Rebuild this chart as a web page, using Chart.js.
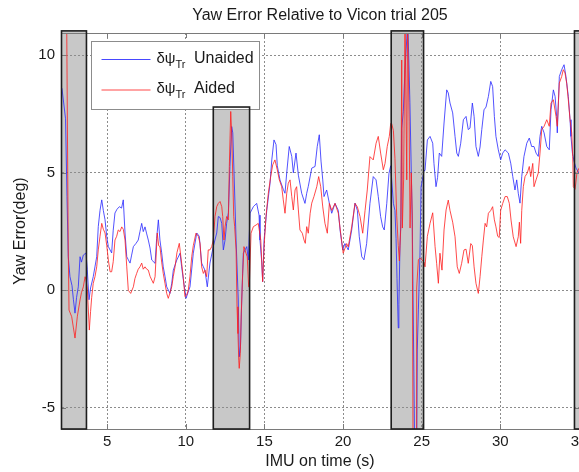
<!DOCTYPE html>
<html><head><meta charset="utf-8">
<script src="https://cdn.jsdelivr.net/npm/chart.js@4"></script>
<style>html,body{margin:0;padding:0;background:#fff;overflow:hidden;width:579px;height:472px}canvas{display:block}</style>
</head><body>
<canvas id="c" width="620" height="472"></canvas>
<script>
const titleText = 'Yaw Error Relative to Vicon trial 205';
const xLabel = 'IMU on time (s)';
const yLabel = 'Yaw Error(deg)';
const seriesNames = ['Unaided', 'Aided'];
const seriesSymbol = 'δψ';
const seriesSub = 'Tr';
const xTicks = [5, 10, 15, 20, 25, 30, 35];
const yTicks = [-5, 0, 5, 10];
const xRange = [2.07, 35.0];
const yRange = [-5.9, 10.95];
const shadeStart = [2.07, 11.72, 23.03, 34.68];
const shadeEnd = [3.72, 14.09, 25.15, 36.5];
const shadeTop = [11.04, 7.80, 11.04, 11.04];

const blueTime = [2.13,2.36,2.45,2.53,2.64,2.77,2.86,2.96,3.06,3.17,3.28,3.37,3.49,3.66,3.74,3.85,3.95,4.12,4.34,4.44,4.55,4.66,4.76,4.87,4.98,5.08,5.29,5.39,5.50,5.63,5.78,5.92,6.03,6.14,6.25,6.35,6.46,6.56,6.67,6.84,6.98,7.09,7.20,7.30,7.41,7.52,7.62,7.73,7.84,8.05,8.15,8.26,8.36,8.47,8.57,8.68,8.79,9.00,9.11,9.21,9.43,9.64,9.74,9.85,10.02,10.14,10.27,10.48,10.70,10.86,11.01,11.12,11.22,11.37,11.54,11.75,11.97,12.07,12.18,12.29,12.39,12.50,12.60,12.71,12.81,12.92,12.99,13.07,13.20,13.34,13.40,13.48,13.56,13.66,13.88,13.98,14.09,14.30,14.51,14.66,14.72,14.83,14.89,14.98,15.15,15.36,15.47,15.61,15.74,15.82,15.99,16.20,16.31,16.42,16.58,16.74,16.84,17.01,17.16,17.37,17.58,17.69,17.79,18.01,18.22,18.36,18.49,18.60,18.71,18.79,18.96,19.13,19.28,19.49,19.70,19.81,19.98,20.12,20.33,20.55,20.76,20.91,21.03,21.19,21.33,21.50,21.71,21.92,22.10,22.24,22.39,22.52,22.62,22.78,22.92,23.03,23.20,23.30,23.37,23.43,23.51,23.55,23.62,23.68,23.73,23.83,23.94,24.05,24.11,24.25,24.40,24.55,24.68,24.72,24.79,24.89,24.96,25.15,25.21,25.36,25.53,25.70,25.78,25.91,26.01,26.12,26.27,26.42,26.59,26.69,26.80,26.97,27.12,27.23,27.33,27.48,27.65,27.82,27.96,28.07,28.22,28.33,28.45,28.60,28.71,28.82,28.96,29.09,29.24,29.39,29.51,29.62,29.72,29.87,30.02,30.15,30.30,30.51,30.66,30.79,30.93,31.04,31.14,31.25,31.36,31.50,31.68,31.84,31.99,32.14,32.27,32.41,32.52,32.63,32.78,32.95,33.11,33.22,33.37,33.48,33.58,33.62,33.75,33.90,34.05,34.17,34.32,34.43,34.49,34.58,34.68,34.81,35.00];
const blueYaw = [8.6,7.3,4.0,1.43,0.58,0.2,-0.4,-0.97,-0.3,0.15,1.43,1.2,1.5,1.59,0.9,-0.4,0.1,0.58,1.43,2.71,3.4,3.85,3.4,3.0,2.28,1.86,1.59,2.56,3.29,3.45,3.56,3.5,3.85,2.44,1.43,1.3,1.16,1.5,1.86,2.0,2.14,2.5,2.85,2.5,2.7,2.4,2.14,1.8,1.29,1.15,2.2,3.0,2.14,1.6,1.0,0.6,0.15,-0.13,0.3,0.86,1.29,1.58,1.0,0.44,-0.34,-0.1,0.15,1.58,2.44,2.3,1.16,1.0,0.86,0.15,1.16,1.86,2.44,3.14,3.1,2.85,1.72,2.14,2.85,3.3,5.27,6.97,6.7,4.99,2.14,-0.41,-2.83,-2.4,-0.41,1.58,1.86,1.29,3.29,3.56,3.7,3.2,2.14,1.2,0.37,2.14,3.4,4.56,5.55,6.4,6.2,5.3,4.7,4.3,4.13,5.0,6.12,5.7,5.0,5.84,4.9,4.13,3.7,4.13,4.42,5.2,5.27,6.12,6.62,5.5,4.7,3.99,4.27,3.7,3.28,3.7,3.4,2.57,1.72,1.99,1.72,2.57,3.71,3.4,2.3,1.43,1.3,1.99,3.7,4.84,4.7,3.99,3.14,2.7,2.57,3.7,4.98,5.3,3.7,3.4,2.2,0.5,-1.6,-0.6,1.9,3.0,6.9,7.6,9.4,10.7,11.6,8.0,2.95,-6.5,-6.5,-2.5,-0.8,1.5,4.4,5.1,5.1,6.4,6.55,6.26,5.4,4.41,4.8,5.84,5.7,7.12,8.53,8.4,7.97,7.55,6.55,5.84,5.7,6.26,7.26,7.4,6.84,6.9,7.97,7.4,6.12,5.7,6.1,6.84,7.68,7.8,8.25,8.89,8.67,7.4,6.55,5.98,5.55,5.84,5.98,5.84,5.41,4.84,4.27,4.7,4.13,3.71,4.84,5.69,6.26,6.48,6.12,6.12,5.84,5.7,6.55,6.98,6.7,6.12,5.98,7.68,8.53,8.25,7.4,6.7,9.1,9.39,9.6,9.1,8.25,7.26,6.55,5.84,5.5,5.2,5.0];

const redTime = [2.13,2.43,2.53,2.58,2.75,2.86,2.96,3.11,3.28,3.37,3.49,3.60,3.66,3.74,3.87,3.95,4.02,4.12,4.23,4.34,4.44,4.55,4.66,4.76,4.87,4.98,5.08,5.19,5.29,5.39,5.50,5.61,5.71,5.82,5.93,6.03,6.14,6.25,6.35,6.50,6.67,6.77,6.88,6.98,7.09,7.20,7.30,7.41,7.52,7.62,7.73,7.84,7.94,8.05,8.19,8.28,8.36,8.47,8.57,8.68,8.79,8.89,9.00,9.11,9.21,9.32,9.44,9.59,9.74,9.85,9.95,10.06,10.16,10.27,10.38,10.48,10.65,10.80,10.91,11.01,11.12,11.22,11.33,11.43,11.54,11.65,11.75,11.86,11.97,12.07,12.18,12.29,12.35,12.43,12.50,12.60,12.71,12.77,12.86,12.92,12.99,13.05,13.11,13.20,13.26,13.32,13.37,13.40,13.47,13.53,13.62,13.70,13.83,13.91,14.00,14.04,14.15,14.30,14.47,14.61,14.77,14.89,14.98,15.10,15.25,15.40,15.53,15.67,15.82,15.95,16.10,16.20,16.31,16.42,16.52,16.63,16.74,16.84,16.95,17.05,17.16,17.26,17.41,17.52,17.60,17.69,17.79,17.91,18.01,18.15,18.33,18.45,18.58,18.71,18.85,19.00,19.13,19.28,19.49,19.70,19.85,20.01,20.23,20.33,20.55,20.76,20.91,21.08,21.25,21.40,21.54,21.71,21.92,22.10,22.24,22.39,22.56,22.67,22.81,22.94,23.03,23.09,23.20,23.30,23.41,23.51,23.58,23.67,23.73,23.77,23.85,23.94,24.05,24.10,24.20,24.26,24.34,24.40,24.45,24.64,24.68,24.79,24.89,25.02,25.15,25.21,25.36,25.53,25.70,25.85,25.95,26.06,26.16,26.29,26.42,26.55,26.69,26.80,26.97,27.12,27.26,27.39,27.54,27.69,27.82,27.96,28.12,28.22,28.33,28.45,28.60,28.71,28.82,28.92,29.03,29.13,29.24,29.39,29.51,29.62,29.72,29.83,29.93,30.02,30.15,30.30,30.44,30.57,30.68,30.82,31.00,31.14,31.21,31.29,31.36,31.46,31.57,31.71,31.84,31.93,32.06,32.14,32.27,32.41,32.52,32.63,32.78,32.95,33.11,33.22,33.37,33.54,33.62,33.75,33.90,34.00,34.11,34.22,34.32,34.43,34.54,34.60,34.64,34.75,34.87,35.00];
const redYaw = [11.6,11.6,1.8,-0.84,-1.12,-1.6,-2.03,-1.1,-0.41,-0.1,0.15,0.58,0.45,0.1,-1.69,-0.9,-0.3,0.3,0.58,1.0,1.72,2.3,2.85,2.6,2.44,1.9,1.29,0.79,0.79,1.22,2.14,2.3,2.57,2.5,2.7,2.6,2.14,1.0,0.0,-0.13,0.15,0.5,0.72,0.9,1.0,1.16,0.9,1.0,0.9,0.86,0.6,0.44,0.3,0.58,2.44,1.9,1.86,1.2,0.72,0.3,-0.13,-0.34,-0.1,0.15,0.6,1.0,1.6,2.0,1.15,0.5,-0.27,-0.2,0.0,0.6,1.43,1.9,2.43,2.3,2.0,1.0,0.72,0.86,0.58,1.72,1.72,1.86,2.14,3.14,3.56,3.7,3.78,3.56,3.14,2.14,2.71,3.14,3.0,5.27,7.61,6.69,4.84,3.14,2.71,1.72,-0.70,-1.84,-2.97,-3.32,-2.68,-0.98,0.72,1.86,1.58,1.43,0.15,0.15,2.43,2.71,2.78,2.85,2.14,0.37,1.86,3.14,4.13,4.84,5.34,5.55,5.13,4.70,4.41,3.85,3.28,4.13,4.56,4.70,3.99,3.42,4.27,4.41,3.42,2.57,2.43,2.14,2.00,2.71,2.43,3.28,3.71,3.99,4.41,4.84,4.41,3.55,2.85,2.43,3.7,3.4,3.7,3.28,2.43,1.58,1.99,1.85,2.7,3.7,3.55,3.14,2.43,3.4,4.27,5.69,5.55,6.26,6.55,5.84,5.13,5.4,6.12,6.55,7.1,7.1,6.8,5.6,3.2,1.9,1.25,2.65,9.8,2.65,4.7,11.6,4.7,11.6,7.2,2.65,5.0,3.2,-6.5,-6.5,0.1,1.3,1.37,1.3,1.2,1.0,2.3,2.85,3.3,1.86,1.15,0.3,1.58,0.86,2.57,3.42,3.84,3.4,2.9,2.28,1.0,0.72,1.15,1.72,1.75,1.15,1.99,1.9,1.0,0.3,-0.13,0.58,1.43,2.14,2.85,2.7,3.28,3.4,3.56,3.0,2.7,2.3,2.25,3.4,3.7,3.99,3.99,3.7,2.99,2.28,1.86,2.28,2.9,2.0,3.4,4.41,4.84,4.99,5.27,4.84,5.4,4.41,4.7,4.99,5.84,6.84,6.98,7.26,6.98,7.97,8.11,7.4,6.98,8.82,9.1,9.39,9.25,8.8,8.11,7.26,6.7,5.7,4.41,4.3,5.0,5.2];

const FONT = "'Liberation Sans', Arial, sans-serif";
const toPts = (t, v) => t.map((x, i) => ({x: x, y: v[i]}));

const decor = {
  id: 'decor',
  beforeDraw(chart) {
    const {ctx, chartArea: a, scales: {x, y}} = chart;
    ctx.save();
    ctx.fillStyle = '#fff';
    ctx.fillRect(0, 0, chart.width, chart.height);
    ctx.fillStyle = '#c8c8c8';
    for (let i = 0; i < shadeStart.length; i++) {
      const l = x.getPixelForValue(shadeStart[i]);
      const r = x.getPixelForValue(shadeEnd[i]);
      const t = y.getPixelForValue(shadeTop[i]);
      ctx.fillRect(l, t, r - l, a.bottom - t);
    }
    ctx.restore();
  },
  afterDraw(chart) {
    const {ctx, chartArea: a, scales: {x, y}} = chart;
    ctx.save();
    // axes box
    ctx.strokeStyle = '#7a7a7a';
    ctx.lineWidth = 1;
    ctx.strokeRect(Math.round(a.left) + 0.5, Math.round(a.top) + 0.5, a.right - a.left, a.bottom - a.top);
    // inward tick marks
    ctx.beginPath();
    xTicks.forEach(v => {
      const p = Math.round(x.getPixelForValue(v)) + 0.5;
      ctx.moveTo(p, a.bottom); ctx.lineTo(p, a.bottom - 5);
      ctx.moveTo(p, a.top); ctx.lineTo(p, a.top + 5);
    });
    yTicks.forEach(v => {
      const p = Math.round(y.getPixelForValue(v)) + 0.5;
      ctx.moveTo(a.left, p); ctx.lineTo(a.left + 5, p);
      ctx.moveTo(a.right, p); ctx.lineTo(a.right - 5, p);
    });
    ctx.stroke();
    // title
    ctx.fillStyle = '#1a1a1a';
    ctx.font = '16px ' + FONT;
    ctx.textAlign = 'center';
    ctx.textBaseline = 'alphabetic';
    ctx.fillText(titleText, (a.left + a.right) / 2, 19.5);
    // legend
    const lx = a.left + 30.5, ly = a.top + 8.5, lw = 168, lh = 68;
    ctx.fillStyle = '#fff';
    ctx.fillRect(lx, ly, lw, lh);
    ctx.strokeStyle = '#8c8c8c';
    ctx.lineWidth = 1;
    ctx.strokeRect(lx, ly, lw, lh);
    const colors = ['rgba(40,40,255,0.85)', 'rgba(255,40,40,0.85)'];
    const rowY = [ly + 18, ly + 48.5];
    ctx.textAlign = 'left';
    for (let i = 0; i < seriesNames.length; i++) {
      ctx.strokeStyle = colors[i];
      ctx.lineWidth = 1;
      ctx.beginPath();
      ctx.moveTo(lx + 10, rowY[i]); ctx.lineTo(lx + 59, rowY[i]);
      ctx.stroke();
      ctx.fillStyle = '#1a1a1a';
      const base = rowY[i] + 3;
      ctx.font = '15px ' + FONT;
      ctx.fillText(seriesSymbol, lx + 65, base);
      const w = ctx.measureText(seriesSymbol).width;
      ctx.font = '11px ' + FONT;
      ctx.fillText(seriesSub, lx + 65 + w, base + 5);
      ctx.font = '16px ' + FONT;
      ctx.fillText(seriesNames[i], lx + 102.5, base);
    }
    // shaded region borders
    ctx.strokeStyle = '#1e1e1e';
    ctx.lineWidth = 1.6;
    for (let i = 0; i < shadeStart.length; i++) {
      const l = x.getPixelForValue(shadeStart[i]);
      const r = x.getPixelForValue(shadeEnd[i]);
      const t = y.getPixelForValue(shadeTop[i]);
      ctx.strokeRect(l + 0.5, t, r - l - 1, a.bottom - t);
    }
    ctx.restore();
  }
};

new Chart(document.getElementById('c'), {
  type: 'scatter',
  data: {
    datasets: [
      {label: seriesNames[0], data: toPts(blueTime, blueYaw), showLine: true, borderColor: 'rgba(40,40,255,0.8)', borderWidth: 1, pointRadius: 0, order: 1, tension: 0},
      {label: seriesNames[1], data: toPts(redTime, redYaw), showLine: true, borderColor: 'rgba(255,30,30,0.8)', borderWidth: 1, pointRadius: 0, order: 0, tension: 0}
    ]
  },
  options: {
    responsive: false,
    animation: false,
    devicePixelRatio: 1,
    events: [],
    layout: {padding: {left: 0, top: 33, right: 41, bottom: 0}},
    plugins: {legend: {display: false}, tooltip: {enabled: false}, title: {display: false}},
    scales: {
      x: {
        type: 'linear', min: xRange[0], max: xRange[1],
        afterBuildTicks: s => { s.ticks = xTicks.map(v => ({value: v})); },
        afterFit: s => { s.height = 43; },
        grid: {color: '#8c8c8c', lineWidth: 1, drawTicks: false},
        border: {display: true, color: '#7a7a7a', width: 1, dash: [2, 2]},
        ticks: {padding: 4, color: '#1a1a1a', font: {family: FONT, size: 15}, maxRotation: 0, autoSkip: false},
        title: {display: true, text: xLabel, color: '#1a1a1a', font: {family: FONT, size: 16}, padding: {top: 0, bottom: 1}}
      },
      y: {
        type: 'linear', min: yRange[0], max: yRange[1],
        afterBuildTicks: s => { s.ticks = yTicks.map(v => ({value: v})); },
        afterFit: s => { s.width = 61; },
        grid: {color: '#8c8c8c', lineWidth: 1, drawTicks: false},
        border: {display: true, color: '#7a7a7a', width: 1, dash: [2, 2]},
        ticks: {padding: 6, color: '#1a1a1a', font: {family: FONT, size: 15}, autoSkip: false},
        title: {display: true, text: yLabel, color: '#1a1a1a', font: {family: FONT, size: 16}, padding: {top: 11, bottom: 0}}
      }
    }
  },
  plugins: [decor]
});
</script>
</body></html>
